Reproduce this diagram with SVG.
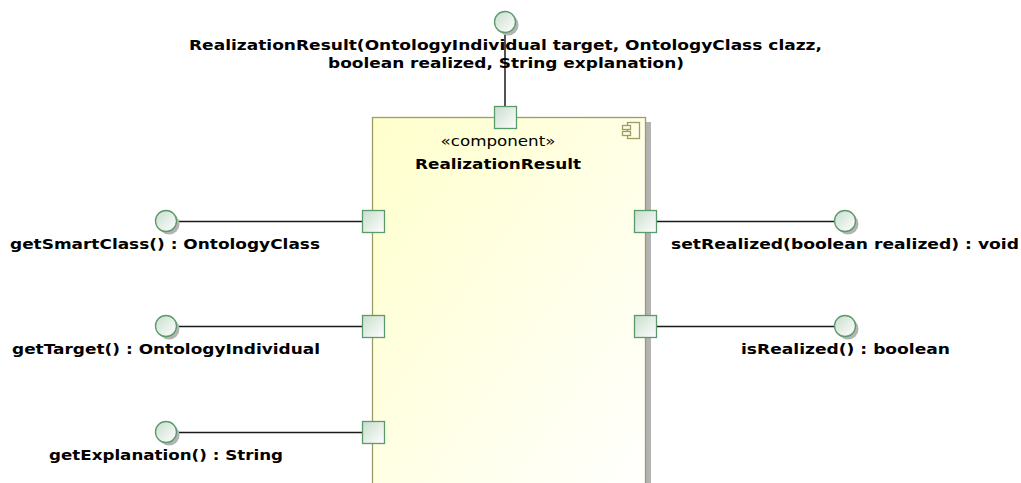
<svg xmlns="http://www.w3.org/2000/svg" width="1021" height="483" viewBox="0 0 1021 483">
  <style>
    .lbl { font-family: "DejaVu Sans", "Liberation Sans", sans-serif; font-size: 14px; font-weight: bold; fill: #000; text-anchor: middle; }
    .ster { font-family: "DejaVu Sans", "Liberation Sans", sans-serif; font-size: 14px; fill: #000; text-anchor: middle; }
    .port { fill: url(#portFill); stroke: #5b9a6b; stroke-width: 1.3; }
    .ball { fill: url(#ballFill); stroke: #5b9a6b; stroke-width: 1.3; }
    .ballShadow { fill: #b3b3b3; }
    .wire { stroke: #1a1a1a; stroke-width: 1.5; fill: none; }
  </style>
  <defs>
    <linearGradient id="compFill" x1="0" y1="0" x2="1" y2="1">
      <stop offset="0" stop-color="#ffffcc"/>
      <stop offset="1" stop-color="#ffffff"/>
    </linearGradient>
    <linearGradient id="portFill" x1="0" y1="0" x2="1" y2="1">
      <stop offset="0" stop-color="#c9ddcd"/>
      <stop offset="1" stop-color="#ffffff"/>
    </linearGradient>
    <linearGradient id="ballFill" x1="0" y1="0" x2="1" y2="1">
      <stop offset="0" stop-color="#c9ddcd"/>
      <stop offset="1" stop-color="#ffffff"/>
    </linearGradient>
  </defs>

  <!-- component body -->
  <g id="component">
    <rect x="377" y="122" width="274" height="380" fill="#b3b3b3"/>
    <rect x="372.5" y="117.5" width="273" height="380" fill="url(#compFill)" stroke="#9c9c64" stroke-width="1.3"/>
    <!-- component icon -->
    <g fill="none" stroke="#9c9c64" stroke-width="1.3">
      <rect x="627.5" y="122.5" width="12" height="16"/>
      <rect x="622.5" y="125.5" width="8" height="4" fill="#ffffe0"/>
      <rect x="622.5" y="131.5" width="8" height="4" fill="#ffffe0"/>
    </g>
    <text class="ster" x="498" y="146" textLength="115" lengthAdjust="spacingAndGlyphs">«component»</text>
    <text class="lbl" x="498" y="169" textLength="166" lengthAdjust="spacingAndGlyphs">RealizationResult</text>
  </g>

  <!-- connectors -->
  <g id="connectors">
    <line class="wire" x1="505" y1="32" x2="505" y2="106"/>
    <line class="wire" x1="177" y1="221.5" x2="362" y2="221.5"/>
    <line class="wire" x1="177" y1="326.5" x2="362" y2="326.5"/>
    <line class="wire" x1="177" y1="432.5" x2="362" y2="432.5"/>
    <line class="wire" x1="656" y1="221.5" x2="834" y2="221.5"/>
    <line class="wire" x1="656" y1="326.5" x2="834" y2="326.5"/>
  </g>

  <!-- ports -->
  <g id="ports">
    <rect class="port" x="494.5" y="106.5" width="22" height="22"/>
    <rect class="port" x="362.5" y="210.5" width="22" height="22"/>
    <rect class="port" x="362.5" y="315.5" width="22" height="22"/>
    <rect class="port" x="362.5" y="421.5" width="22" height="22"/>
    <rect class="port" x="634.5" y="210.5" width="22" height="22"/>
    <rect class="port" x="634.5" y="315.5" width="22" height="22"/>
  </g>

  <!-- provided interfaces -->
  <g id="if-constructor">
    <circle class="ballShadow" cx="508" cy="25" r="10.5"/>
    <circle class="ball" cx="505" cy="22" r="10.5"/>
    <text class="lbl" x="505.5" y="50" textLength="633" lengthAdjust="spacingAndGlyphs">RealizationResult(OntologyIndividual target, OntologyClass clazz,</text>
    <text class="lbl" x="506" y="68" textLength="356" lengthAdjust="spacingAndGlyphs">boolean realized, String explanation)</text>
  </g>
  <g id="if-getSmartClass">
    <circle class="ballShadow" cx="169" cy="224" r="10.5"/>
    <circle class="ball" cx="166" cy="221" r="10.5"/>
    <text class="lbl" x="165" y="249" textLength="310" lengthAdjust="spacingAndGlyphs">getSmartClass() : OntologyClass</text>
  </g>
  <g id="if-getTarget">
    <circle class="ballShadow" cx="169" cy="329" r="10.5"/>
    <circle class="ball" cx="166" cy="326" r="10.5"/>
    <text class="lbl" x="166" y="354" textLength="308" lengthAdjust="spacingAndGlyphs">getTarget() : OntologyIndividual</text>
  </g>
  <g id="if-getExplanation">
    <circle class="ballShadow" cx="169" cy="435" r="10.5"/>
    <circle class="ball" cx="166" cy="432" r="10.5"/>
    <text class="lbl" x="166" y="460" textLength="234" lengthAdjust="spacingAndGlyphs">getExplanation() : String</text>
  </g>
  <g id="if-setRealized">
    <circle class="ballShadow" cx="848" cy="224" r="10.5"/>
    <circle class="ball" cx="845" cy="221" r="10.5"/>
    <text class="lbl" x="845" y="249" textLength="348" lengthAdjust="spacingAndGlyphs">setRealized(boolean realized) : void</text>
  </g>
  <g id="if-isRealized">
    <circle class="ballShadow" cx="848" cy="329" r="10.5"/>
    <circle class="ball" cx="845" cy="326" r="10.5"/>
    <text class="lbl" x="845.5" y="354" textLength="209" lengthAdjust="spacingAndGlyphs">isRealized() : boolean</text>
  </g>
</svg>
